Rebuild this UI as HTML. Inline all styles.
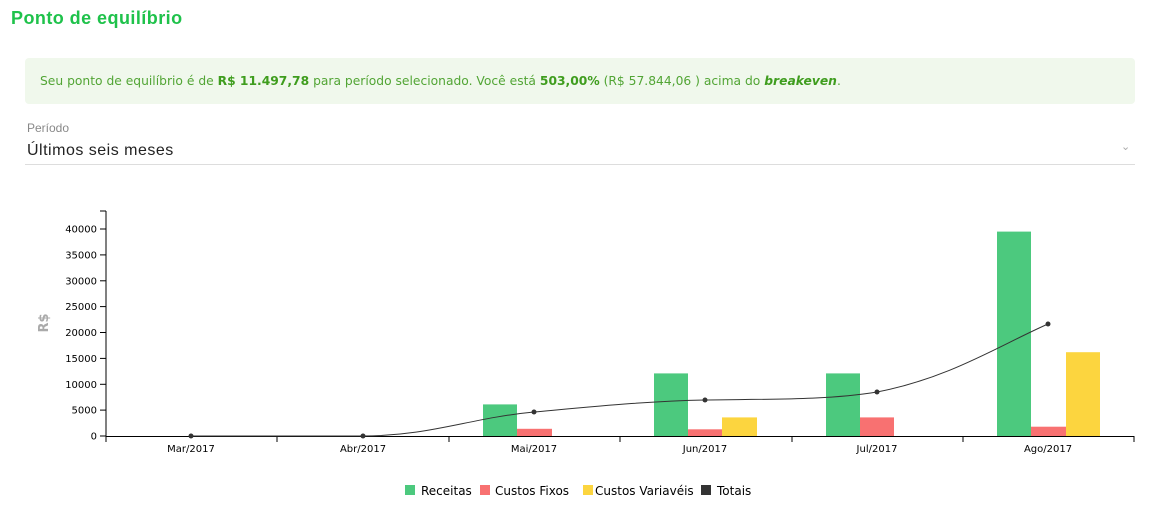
<!DOCTYPE html>
<html><head><meta charset="utf-8"><style>
body{margin:0;width:1164px;height:513px;background:#fff;font-family:"Liberation Sans","DejaVu Sans",sans-serif;position:relative;overflow:hidden}
h1{position:absolute;left:11px;top:8px;margin:0;font-size:18px;color:#1fc24b;font-weight:bold;letter-spacing:.45px}
.box{position:absolute;left:25px;top:58px;width:1110px;height:46px;background:#f0f8ec;border-radius:4px;color:#52a535;font-size:12.3px;line-height:46px;padding-left:15px;box-sizing:border-box;font-family:"DejaVu Sans",sans-serif}
.box b{color:#3f9d1e}
.lbl{position:absolute;left:27px;top:121px;font-size:12px;color:#888}
.sel{position:absolute;left:27px;top:142px;font-size:16px;color:#222;letter-spacing:.5px}
.line{position:absolute;left:25px;top:164px;width:1110px;height:1px;background:#ddd}
.chev{position:absolute;left:1121px;top:140px;font-size:11px;color:#aaa}
svg{position:absolute;left:0;top:0}
svg text{font-family:"DejaVu Sans","Liberation Sans",sans-serif}
</style></head><body>
<h1>Ponto de equilíbrio</h1>
<div class="box">Seu ponto de equilíbrio é de <b>R$ 11.497,78</b> para período selecionado. Você está <b>503,00%</b> (R$ 57.844,06 ) acima do <b><i>breakeven</i></b>.</div>
<div class="lbl">Período</div>
<div class="sel">Últimos seis meses</div>
<div class="chev">&#8964;</div>
<div class="line"></div>
<svg width="1164" height="513">
<g font-size="10" fill="#000" text-anchor="end">
<text x="97" y="439.5">0</text>
<text x="97" y="413.6">5000</text>
<text x="97" y="387.8">10000</text>
<text x="97" y="361.9">15000</text>
<text x="97" y="336">20000</text>
<text x="97" y="310.1">25000</text>
<text x="97" y="284.3">30000</text>
<text x="97" y="258.4">35000</text>
<text x="97" y="232.5">40000</text>
</g>
<g stroke="#000" stroke-width="1">
<line x1="106" y1="211" x2="106" y2="436"/>
<line x1="100" y1="211" x2="106" y2="211"/>
<line x1="106" y1="436.5" x2="1134" y2="436.5"/>
<line x1="100" y1="436" x2="106" y2="436"/><line x1="100" y1="410.1" x2="106" y2="410.1"/><line x1="100" y1="384.3" x2="106" y2="384.3"/><line x1="100" y1="358.4" x2="106" y2="358.4"/><line x1="100" y1="332.5" x2="106" y2="332.5"/><line x1="100" y1="306.6" x2="106" y2="306.6"/><line x1="100" y1="280.8" x2="106" y2="280.8"/><line x1="100" y1="254.9" x2="106" y2="254.9"/><line x1="100" y1="229" x2="106" y2="229"/>
<line x1="106" y1="436" x2="106" y2="442"/><line x1="277" y1="436" x2="277" y2="442"/><line x1="449" y1="436" x2="449" y2="442"/><line x1="620" y1="436" x2="620" y2="442"/><line x1="792" y1="436" x2="792" y2="442"/><line x1="963" y1="436" x2="963" y2="442"/><line x1="1134" y1="436" x2="1134" y2="442"/>
</g>
<text x="48" y="323" font-size="13" fill="#aaa" font-weight="bold" transform="rotate(-90 48 323)" text-anchor="middle">R$</text>
<g font-size="10" fill="#000" text-anchor="middle">
<text x="191" y="452">Mar/2017</text><text x="363" y="452">Abr/2017</text><text x="534" y="452">Mai/2017</text><text x="705" y="452">Jun/2017</text><text x="877" y="452">Jul/2017</text><text x="1048" y="452">Ago/2017</text>
</g>
<g fill="#4cc97e">
<rect x="483" y="404.4" width="34" height="31.6"/><rect x="654" y="373.4" width="34" height="62.6"/><rect x="826" y="373.4" width="34" height="62.6"/><rect x="997" y="231.6" width="34" height="204.4"/>
</g>
<g fill="#f87171">
<rect x="517" y="428.8" width="35" height="7.2"/><rect x="688" y="429.3" width="34" height="6.7"/><rect x="860" y="417.4" width="34" height="18.6"/><rect x="1031" y="426.7" width="35" height="9.3"/>
</g>
<g fill="#fcd53f">
<rect x="722" y="417.4" width="35" height="18.6"/><rect x="1066" y="352.2" width="34" height="83.8"/>
</g>
<path d="M191,436 C250,436 300,436 363,436 C430,436 470,418 534,412 C600,406 650,401 705,400 C770,399 830,400 877,392 C950,378 1000,345 1048,324" fill="none" stroke="#333" stroke-width="1"/>
<g fill="#333"><circle cx="191" cy="436" r="2.5"/><circle cx="363" cy="436" r="2.5"/><circle cx="534" cy="412" r="2.5"/><circle cx="705" cy="400" r="2.5"/><circle cx="877" cy="392" r="2.5"/><circle cx="1048" cy="324" r="2.5"/></g>
<g font-size="12" fill="#000">
<rect x="405" y="485" width="10" height="10" fill="#4cc97e"/><text x="421" y="495">Receitas</text>
<rect x="480" y="485" width="10" height="10" fill="#f87171"/><text x="495" y="495">Custos Fixos</text>
<rect x="583" y="485" width="10" height="10" fill="#fcd53f"/><text x="595" y="495">Custos Variavéis</text>
<rect x="701" y="485" width="10" height="10" fill="#333"/><text x="717" y="495">Totais</text>
</g>
</svg>
</body></html>
